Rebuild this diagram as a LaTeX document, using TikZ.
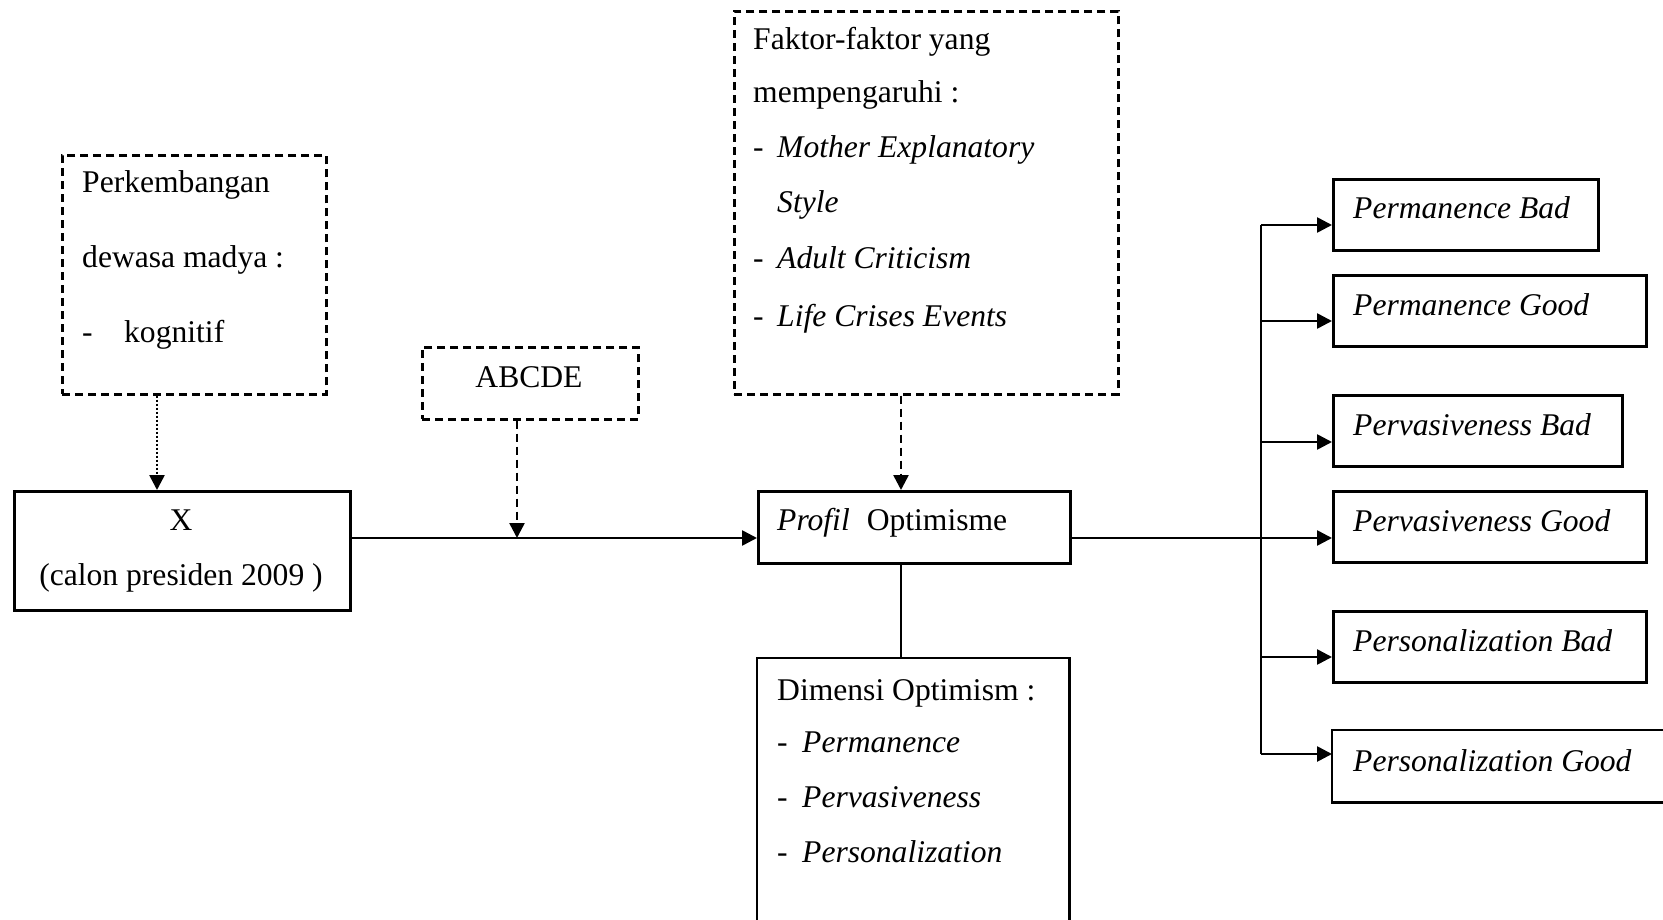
\documentclass[tikz,border=0pt]{standalone}
\usepackage{fontspec}
\setmainfont{Liberation Serif}
\usetikzlibrary{arrows.meta,calc}
\begin{document}
\begin{tikzpicture}[x=1pt,y=-1pt,
  lw/.style={line width=2.6pt},
  box/.style={draw,lw,rectangle,inner sep=0pt,anchor=north west},
  dbox/.style={box,dash pattern=on 8pt off 5pt},
  openbox/.style={rectangle,inner sep=0pt,anchor=north west},
  txt/.style={anchor=base west,inner sep=0pt,font=\fontsize{31.6pt}{38pt}\selectfont},
  ctxt/.style={txt,anchor=base},
  arr/.style={lw,-{Triangle[length=15pt,width=15pt]}},
  darr/.style={arr,dash pattern=on 8pt off 5pt},
  dotarr/.style={arr,dash pattern=on 2pt off 2pt},
]
\useasboundingbox (0,0) rectangle (1663,920);

% Perkembangan
\node[dbox,minimum width=264pt,minimum height=239pt] (perk) at (61,154) {};
\node[txt] (perk1) at (82,193) {Perkembangan};
\node[txt] (perk2) at (82,268) {dewasa madya :};
\node[txt] (perk3) at (82,342) {\makebox[42pt][l]{-}kognitif};

% X
\node[box,minimum width=336pt,minimum height=119pt] (x) at (13,490) {};
\node[ctxt] (x1) at (181,530) {X};
\node[ctxt] (x2) at (181,585) {(calon presiden 2009 )};

% ABCDE
\node[dbox,minimum width=216pt,minimum height=72pt] (abc) at (421,346) {};
\node[ctxt] (abc1) at (529,387) {ABCDE};

% Faktor
\node[dbox,minimum width=384pt,minimum height=383pt] (fak) at (733,10) {};
\node[txt] (fak1) at (753,50) {Faktor-faktor yang};
\node[txt] (fak2) at (753,103) {mempengaruhi :};
\node[txt] (fak3) at (753,158) {\makebox[24pt][l]{-}\textit{Mother Explanatory}};
\node[txt] (fak4) at (777,213) {\textit{Style}};
\node[txt] (fak5) at (753,269) {\makebox[24pt][l]{-}\textit{Adult Criticism}};
\node[txt] (fak6) at (753,326) {\makebox[24pt][l]{-}\textit{Life Crises Events}};

% Profil
\node[box,minimum width=312pt,minimum height=72pt] (prof) at (757,490) {};
\node[txt] (prof1) at (777,530) {\textit{Profil}\hspace{17pt}Optimisme};

% Dimensi
\node[openbox,minimum width=312pt,minimum height=262pt] (dim) at (757,658) {};
\draw[lw] (dim.south west) -- (dim.north west) -- (dim.north east) -- (dim.south east);
\node[txt] (dim1) at (777,700) {Dimensi Optimism :};
\node[txt] (dim2) at (777,752) {\makebox[25pt][l]{-}\textit{Permanence}};
\node[txt] (dim3) at (777,807) {\makebox[25pt][l]{-}\textit{Pervasiveness}};
\node[txt] (dim4) at (777,862) {\makebox[25pt][l]{-}\textit{Personalization}};

% Right boxes
\node[box,minimum width=265pt,minimum height=71pt] (pb) at (1332,178) {};
\node[txt] (pb1) at (1353,219) {\textit{Permanence Bad}};
\node[box,minimum width=313pt,minimum height=71pt] (pg) at (1332,274) {};
\node[txt] (pg1) at (1353,315) {\textit{Permanence Good}};
\node[box,minimum width=289pt,minimum height=71pt] (vb) at (1332,394) {};
\node[txt] (vb1) at (1353,435) {\textit{Pervasiveness Bad}};
\node[box,minimum width=313pt,minimum height=71pt] (vg) at (1332,490) {};
\node[txt] (vg1) at (1353,531) {\textit{Pervasiveness Good}};
\node[box,minimum width=313pt,minimum height=71pt] (sb) at (1332,610) {};
\node[txt] (sb1) at (1353,651) {\textit{Personalization Bad}};
\node[openbox,minimum width=331pt,minimum height=72pt] (sg) at (1332,730) {};
\draw[lw] (sg.north east) -- (sg.north west) -- (sg.south west) -- (sg.south east);
\node[txt] (sg1) at (1353,771) {\textit{Personalization Good}};

% helper coordinates
\coordinate (mainy) at (0,538);
\coordinate (px) at (157,0);
\coordinate (ax) at (517,0);
\coordinate (fx) at (901,0);
\coordinate (b1) at (1261,225);
\coordinate (b2) at (1261,321);
\coordinate (b3) at (1261,442);
\coordinate (b4) at (1261,538);
\coordinate (b5) at (1261,657);
\coordinate (b6) at (1261,754);

% connectors
\draw[dotarr] (perk.south -| px) -- (x.north -| px);
\draw[arr] (x.east |- mainy) -- (prof.west |- mainy);
\draw[darr] (abc.south -| ax) -- (ax |- mainy);
\draw[darr] (fak.south -| fx) -- (prof.north -| fx);
\draw[lw] (prof.south -| fx) -- (dim.north -| fx);
\draw[lw] (prof.east |- mainy) -- (b4);
\draw[lw] (b1) -- (b6);
\draw[arr] (b1) -- (b1 -| pb.west);
\draw[arr] (b2) -- (b2 -| pg.west);
\draw[arr] (b3) -- (b3 -| vb.west);
\draw[arr] (b4) -- (b4 -| vg.west);
\draw[arr] (b5) -- (b5 -| sb.west);
\draw[arr] (b6) -- (b6 -| sg.west);
\end{tikzpicture}
\end{document}
